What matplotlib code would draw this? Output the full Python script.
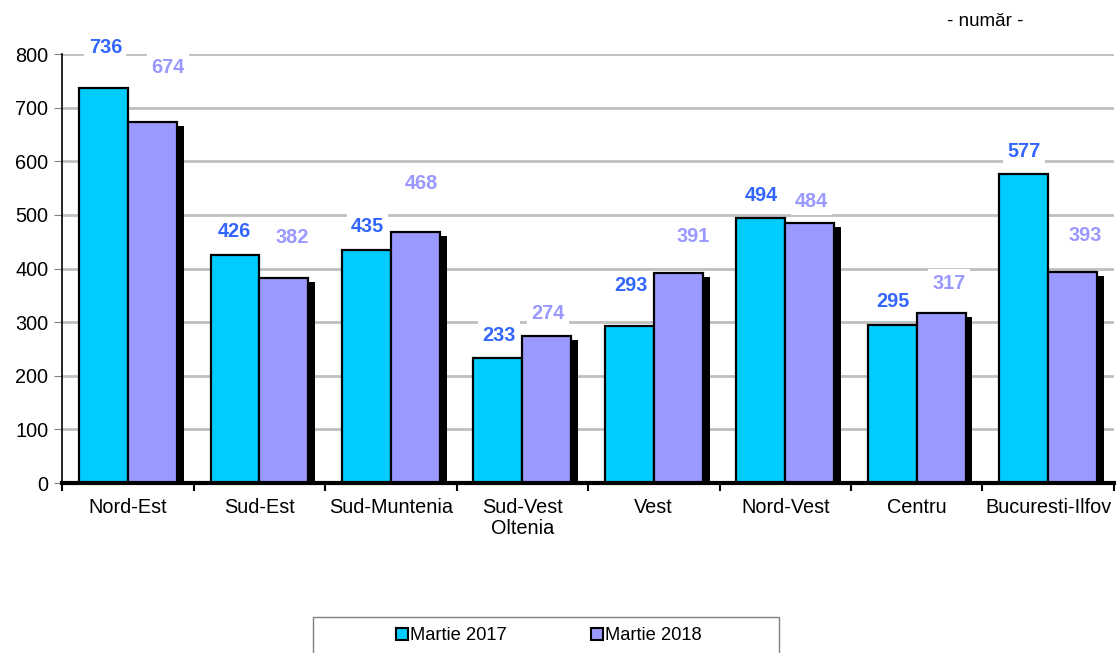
import matplotlib.pyplot as plt
import numpy as np
from matplotlib.patches import Rectangle, Patch

plt.rcParams['font.family'] = ['Liberation Sans', 'DejaVu Sans']

regions = ['Nord-Est', 'Sud-Est', 'Sud-Muntenia', 'Sud-Vest\nOltenia', 'Vest',
           'Nord-Vest', 'Centru', 'Bucuresti-Ilfov']
martie_2017 = [736, 426, 435, 233, 293, 494, 295, 577]
martie_2018 = [674, 382, 468, 274, 391, 484, 317, 393]
# label placement above each bar top (pixels)
dy_2017 = [41, 23, 23, 23, 40, 23, 23, 22]
dy_2018 = [54, 41, 49, 23, 37, 22, 30, 37]
dx_2017 = [2, 0, 1, 1, 2, 1, 1, 0]
dx_2018 = [16, 8, 6, 1, 15, 2, 8, 13]

c17 = '#00CCFF'
c18 = '#9999FF'

fig = plt.figure(figsize=(11.18, 6.53), dpi=100)
ax = fig.add_axes([0.0555, 0.2603, 0.9409, 0.6570])

x = np.arange(len(regions))
w = 0.37
off = 0.186
sdx = 0.053
sdy = 7.5

# drop shadow behind the second series only (first one is hidden by it)
ax.bar(x + off + sdx, np.array(martie_2018) - sdy, w, color='black', zorder=2)
ax.bar(x - off, martie_2017, w, color=c17, edgecolor='black', linewidth=1.6, zorder=3)
ax.bar(x + off, martie_2018, w, color=c18, edgecolor='black', linewidth=1.6, zorder=3)

for i in range(len(regions)):
    ax.annotate(str(martie_2017[i]), (x[i] - off, martie_2017[i]),
                xytext=(dx_2017[i], dy_2017[i]), textcoords='offset pixels',
                ha='center', va='center', fontsize=14.3, fontweight='bold', color='#3366FF',
                bbox=dict(facecolor='white', edgecolor='none', pad=3), zorder=4)
    ax.annotate(str(martie_2018[i]), (x[i] + off, martie_2018[i]),
                xytext=(dx_2018[i], dy_2018[i]), textcoords='offset pixels',
                ha='center', va='center', fontsize=14.3, fontweight='bold', color=c18,
                bbox=dict(facecolor='white', edgecolor='none', pad=3), zorder=4)

ax.set_xlim(-0.5, len(regions) - 0.5)
ax.set_ylim(0, 800)
ax.set_yticks(range(0, 801, 100))
ax.yaxis.grid(True, color='#C0C0C0', linewidth=2)
ax.set_axisbelow(True)
ax.tick_params(axis='y', labelsize=14.3, length=6, color='#808080', pad=4)

ax.set_xticks(x)
ax.set_xticklabels(regions, fontsize=14.3, linespacing=1.1)
ax.tick_params(axis='x', length=0, pad=11)
ax.set_xticks(np.arange(-0.5, len(regions), 1), minor=True)
ax.tick_params(axis='x', which='minor', length=6, width=1.5, direction='out', color='black')

for s in ['top', 'right']:
    ax.spines[s].set_visible(False)
ax.spines['left'].set_linewidth(1.2)
ax.spines['bottom'].set_linewidth(3)
ax.spines['bottom'].set_zorder(5)

fig.text(0.881, 0.967, '- număr -', ha='center', va='center', fontsize=13.5)

fig.patches.append(Rectangle((313 / 1118, -0.05), 466 / 1118, 0.05 + 36 / 653,
                             transform=fig.transFigure, facecolor='white',
                             edgecolor='#808080', linewidth=1))
handles = [Patch(facecolor=c17, edgecolor='black', linewidth=1.5),
           Patch(facecolor=c18, edgecolor='black', linewidth=1.5)]
fig.legend(handles, ['Martie 2017', 'Martie 2018'], loc='center',
           bbox_to_anchor=(549 / 1118, 1 - 636 / 653), ncol=2, frameon=False,
           fontsize=13.2, handlelength=0.65, handleheight=0.65, handletextpad=0.1,
           columnspacing=4.6)

fig.savefig('out.png', dpi=100)
